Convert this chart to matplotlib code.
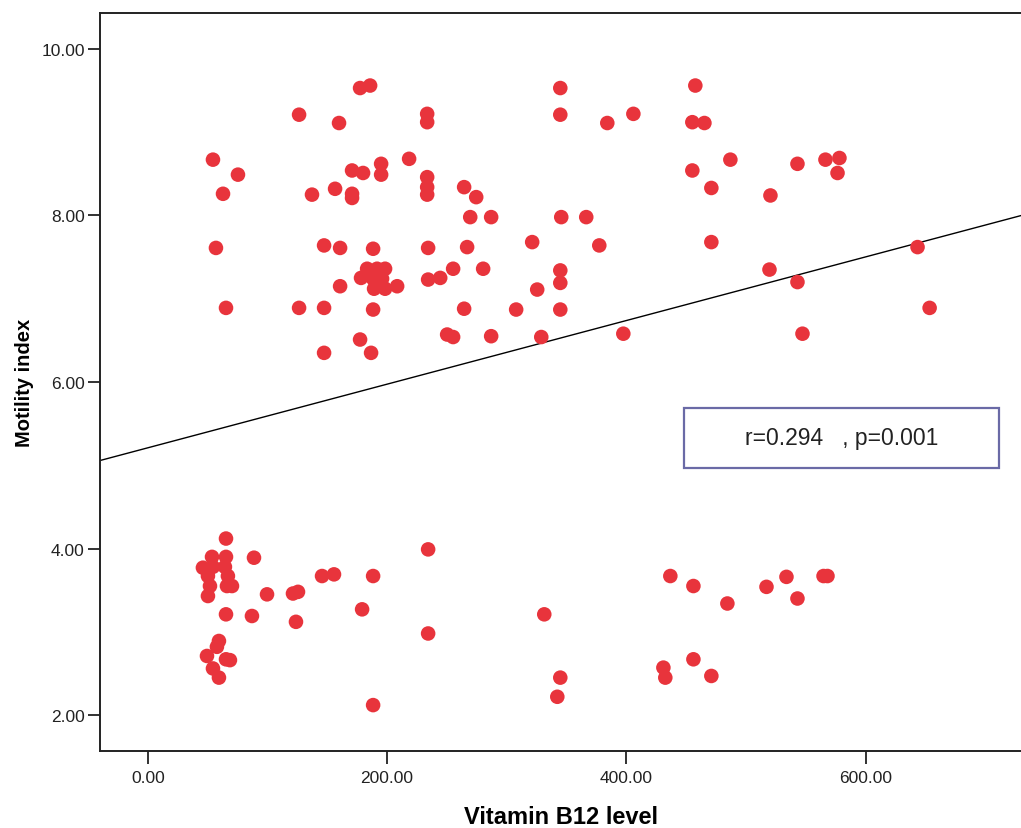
import numpy as np
import matplotlib
matplotlib.use("Agg")
import matplotlib.pyplot as plt
from matplotlib.patches import Rectangle

# Vitamin B12 level vs motility index
b12_high = [177.4, 185.8, 126.4, 159.8, 54.4, 75.3, 62.8, 137.2, 156.5, 170.7,
            179.9, 195.0, 195.0, 218.4, 170.7, 170.7, 56.9, 147.3, 160.7, 188.3,
            183.3, 191.6, 198.3, 178.2, 188.3, 195.8, 189.1, 198.3, 208.4, 160.7,
            65.3, 126.4, 147.3, 188.3, 177.4, 147.3, 186.6, 344.8, 457.7, 233.5,
            233.5, 344.8, 384.1, 405.9, 455.2, 465.3, 233.5, 233.5, 233.5, 264.4,
            274.5, 269.5, 287.0, 345.6, 366.5, 234.3, 266.9, 321.3, 377.4, 471.1,
            255.2, 280.3, 234.3, 244.4, 344.8, 344.8, 325.5, 264.4, 307.9, 344.8,
            250.2, 255.2, 287.0, 328.9, 397.5, 487.0, 543.1, 566.5, 578.2, 576.6,
            471.1, 455.2, 520.5, 519.7, 543.1, 547.3, 643.5, 653.6]
mot_high = [9.53, 9.56, 9.21, 9.11, 8.67, 8.49, 8.26, 8.25, 8.32, 8.54,
            8.51, 8.62, 8.49, 8.68, 8.26, 8.21, 7.61, 7.64, 7.61, 7.60,
            7.36, 7.36, 7.36, 7.25, 7.24, 7.24, 7.12, 7.12, 7.15, 7.15,
            6.89, 6.89, 6.89, 6.87, 6.51, 6.35, 6.35, 9.53, 9.56, 9.22,
            9.12, 9.21, 9.11, 9.22, 9.12, 9.11, 8.46, 8.34, 8.25, 8.34,
            8.22, 7.98, 7.98, 7.98, 7.98, 7.61, 7.62, 7.68, 7.64, 7.68,
            7.36, 7.36, 7.23, 7.25, 7.34, 7.19, 7.11, 6.88, 6.87, 6.87,
            6.57, 6.54, 6.55, 6.54, 6.58, 8.67, 8.62, 8.67, 8.69, 8.51,
            8.33, 8.54, 8.24, 7.35, 7.20, 6.58, 7.62, 6.89]

b12_low = [65.3, 53.6, 65.3, 88.7, 46.0, 54.4, 64.4, 50.2, 66.9, 51.9,
           66.1, 70.3, 50.2, 99.6, 121.3, 125.5, 145.6, 155.6, 188.3, 65.3,
           87.0, 123.8, 179.1, 59.4, 57.7, 49.4, 65.3, 68.6, 54.4, 59.4,
           188.3, 234.3, 234.3, 331.4, 344.8, 342.3, 436.8, 456.1, 484.5, 517.2,
           533.9, 543.1, 564.9, 568.2, 456.1, 431.0, 432.6, 471.1]
mot_low = [4.12, 3.90, 3.90, 3.89, 3.77, 3.78, 3.78, 3.67, 3.67, 3.55,
           3.55, 3.55, 3.43, 3.45, 3.46, 3.48, 3.67, 3.69, 3.67, 3.21,
           3.19, 3.12, 3.27, 2.89, 2.82, 2.71, 2.67, 2.66, 2.56, 2.45,
           2.12, 3.99, 2.98, 3.21, 2.45, 2.22, 3.67, 3.55, 3.34, 3.54,
           3.66, 3.40, 3.67, 3.67, 2.67, 2.57, 2.45, 2.47]

# fit line as drawn in the source
fit_intercept = 5.21
fit_slope = 0.00382

x_ticks = [0, 200, 400, 600]
y_ticks = [2, 4, 6, 8, 10]

plt.rcParams['font.family'] = ['Liberation Sans', 'DejaVu Sans']

x = np.array(b12_high + b12_low)
y = np.array(mot_high + mot_low)

fig = plt.figure(figsize=(10.21, 8.29), dpi=100)
ax = fig.add_axes([0.098, 0.093, 0.902, 0.89])

ax.scatter(x, y, s=110, color="#e8343c", edgecolors="none", zorder=3)

xmin, xmax = -40, 730
xs = np.array([xmin, xmax])
ax.plot(xs, fit_intercept + fit_slope * xs, color="black", lw=1.0, zorder=2)

ax.set_xlim(xmin, xmax)
ax.set_ylim(1.57, 10.43)

ax.set_xticks(x_ticks)
ax.set_xticklabels(["%.2f" % v for v in x_ticks])
ax.set_yticks(y_ticks)
ax.set_yticklabels(["%.2f" % v for v in y_ticks])
ax.tick_params(axis="both", direction="out", length=9, width=1.3,
               colors="#222222")
ax.tick_params(axis="x", pad=5, labelsize=12.5)
ax.tick_params(axis="y", pad=2, labelsize=12.5)

for side in ["left", "bottom", "top"]:
    ax.spines[side].set_linewidth(1.4)
    ax.spines[side].set_color("#222222")
ax.spines["right"].set_visible(False)

ax.set_xlabel("Vitamin B12 level", fontweight="bold", fontsize=17, labelpad=14)
ax.set_ylabel("Motility index", fontweight="bold", fontsize=14.5, labelpad=5)

# annotation box
ax.add_patch(Rectangle((448.5, 4.967), 263.5, 0.721, fill=False,
                       edgecolor="#6a6aa6", lw=1.6, zorder=4))
ax.text(580, 5.33, "r=0.294   , p=0.001", ha="center", va="center",
        fontsize=16.5, color="#222222", zorder=5)

fig.savefig("out.png", dpi=100)
